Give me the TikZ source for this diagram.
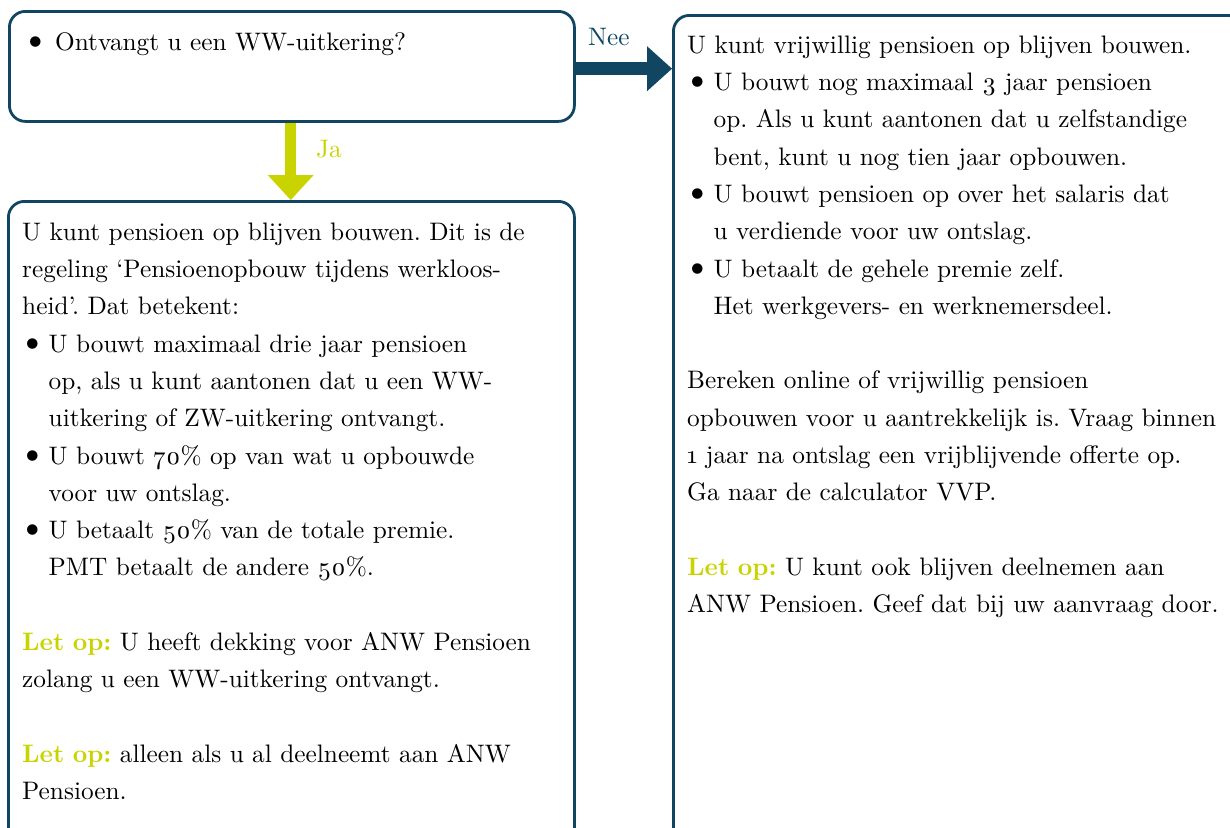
\documentclass[tikz,border=0pt]{standalone}
\usepackage{fontspec}
\setmainfont{lmroman10-regular.otf}[BoldFont=lmroman10-bold.otf, Numbers=OldStyle]
\usetikzlibrary{arrows.meta,calc}
\definecolor{navy}{RGB}{16,70,98}
\definecolor{lime}{RGB}{200,211,0}
\newcommand\bdot{\hspace*{-4pt}\scalebox{1.45}{\textbullet}}
\newcommand\bitem{\makebox[26.5pt][l]{\bdot}}
\newcommand\bind{\hspace*{26.5pt}}
\newcommand\letop{\textcolor{lime}{\textbf{Let op:}}}
\begin{document}
\begin{tikzpicture}[x=1pt,y=-1pt,
  box/.style={draw=navy, line width=2.8pt, rounded corners=16pt, inner sep=0pt, anchor=north west},
  txt/.style={anchor=north west, inner sep=0pt, align=left, text width=#1, font={\fontsize{25.3}{37.3}\selectfont\frenchspacing}},
  lbl/.style={anchor=base west, inner sep=0pt, font={\fontsize{25.3}{30}\selectfont}}]
\useasboundingbox (0,0) rectangle (1230,827);
\clip (0,0) rectangle (1230,827);

% boxes (shapes only, used for connector anchors)
\node[minimum width=565pt, minimum height=110pt, inner sep=0pt, anchor=north west] (q) at (8,10) {};
\node[minimum width=566pt, minimum height=900pt, inner sep=0pt, anchor=north west] (l) at (7,200) {};
\node[minimum width=570pt, minimum height=900pt, inner sep=0pt, anchor=north west] (r) at (672,14) {};

% connectors
\coordinate (na) at ($(q.east)+(0,3.5)$);
\draw[navy, line width=13pt, -{Triangle[length=25pt,width=45pt,line width=0pt]}] (na) -- (r.west |- na);
\draw[lime, line width=11pt, -{Triangle[length=25pt,width=46pt,line width=0pt]}] (q.south) -- (l.north -| q.south);

% box outlines on top
\node[box, minimum width=565pt, minimum height=110pt] (qb) at (8,10) {};
\node[box, minimum width=566pt, minimum height=900pt] (lb) at (7,200) {};
\node[box, minimum width=570pt, minimum height=900pt] (rb) at (672,14) {};

% labels
\node[lbl, text=navy] (nee) at (588,45) {Nee};
\node[lbl, text=lime] (ja) at (316,157) {Ja};

% texts
\node[txt=540pt] (qt) at (25,23.9) {\strut\makebox[30pt][l]{\bdot}Ontvangt u een WW-uitkering?};

\node[txt=600pt] (lt) at (22,213.9) {\strut U kunt pensioen op blijven bouwen. Dit is de\\
regeling ‘Pensioenopbouw tijdens werkloos-\\
heid’. Dat betekent:\\
\bitem U bouwt maximaal drie jaar pensioen\\
\bind op, als u kunt aantonen dat u een WW-\\
\bind uitkering of ZW-uitkering ontvangt.\\
\bitem U bouwt 70\% op van wat u opbouwde\\
\bind voor uw ontslag.\\
\bitem U betaalt 50\% van de totale premie.\\
\bind PMT betaalt de andere 50\%.\\[37.3pt]
\letop{} U heeft dekking voor ANW Pensioen\\
zolang u een WW-uitkering ontvangt.\\[37.3pt]
\letop{} alleen als u al deelneemt aan ANW\\
Pensioen.};

\node[txt=600pt] (rt) at (687,26.9) {\strut U kunt vrijwillig pensioen op blijven bouwen.\\
\bitem U bouwt nog maximaal 3 jaar pensioen\\
\bind op. Als u kunt aantonen dat u zelfstandige\\
\bind bent, kunt u nog tien jaar opbouwen.\\
\bitem U bouwt pensioen op over het salaris dat\\
\bind u verdiende voor uw ontslag.\\
\bitem U betaalt de gehele premie zelf.\\
\bind Het werkgevers- en werknemersdeel.\\[37.3pt]
Bereken online of vrijwillig pensioen\\
opbouwen voor u aantrekkelijk is. Vraag binnen\\
1 jaar na ontslag een vrijblijvende offerte op.\\
Ga naar de calculator VVP.\\[37.3pt]
\letop{} U kunt ook blijven deelnemen aan\\
ANW Pensioen. Geef dat bij uw aanvraag door.};
\end{tikzpicture}
\end{document}
